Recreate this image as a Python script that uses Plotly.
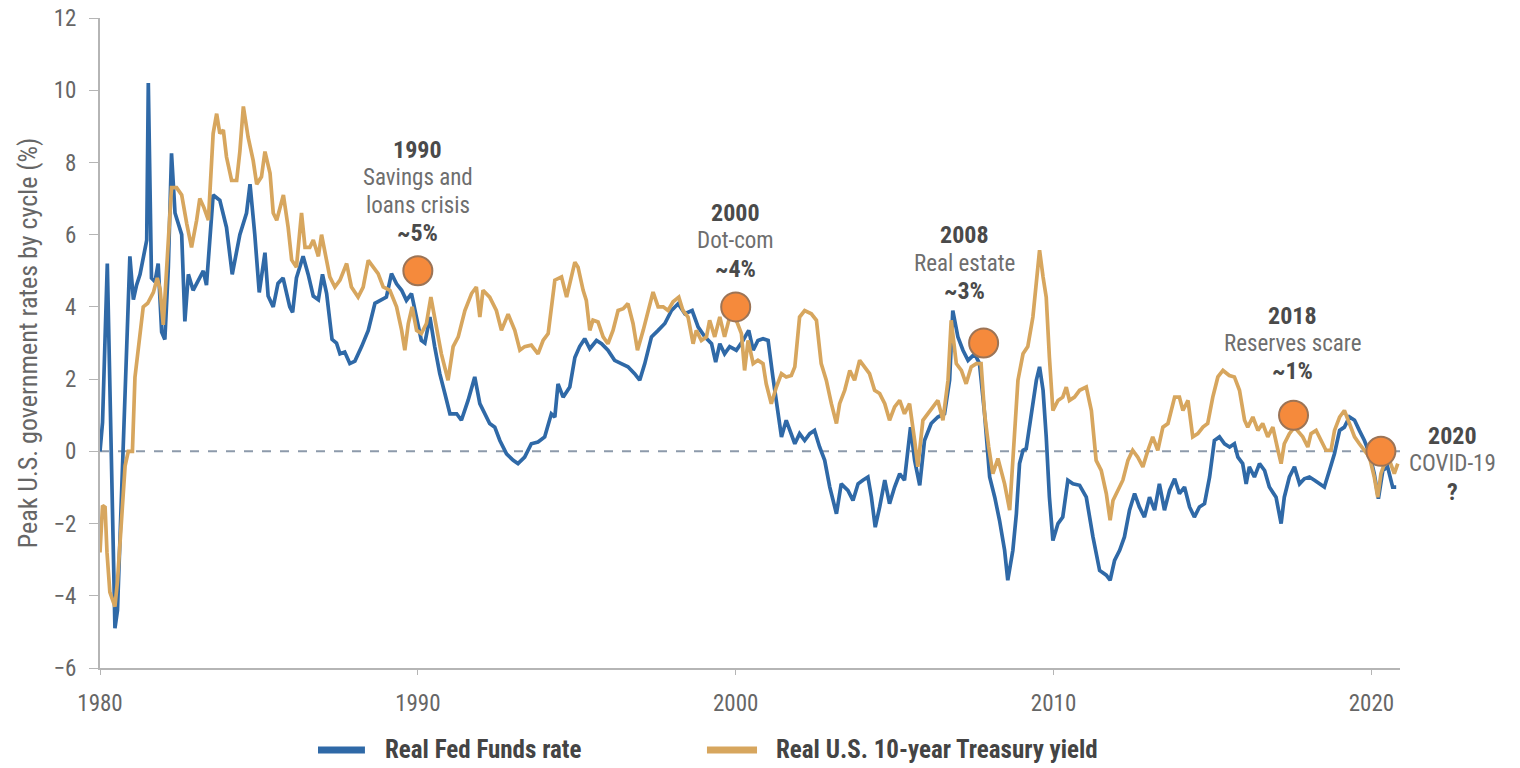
import plotly.graph_objects as go

# Real Fed Funds rate (%), by decimal year
ffr_years = [
    1980.00, 1980.08, 1980.23, 1980.47, 1980.55, 1980.73, 1980.82, 1980.94, 1981.05, 1981.15,
    1981.26, 1981.40, 1981.47, 1981.52, 1981.62, 1981.73, 1981.83, 1981.94, 1982.04, 1982.15,
    1982.25, 1982.36, 1982.57, 1982.67, 1982.78, 1982.93, 1983.09, 1983.25, 1983.35, 1983.56,
    1983.77, 1983.98, 1984.16, 1984.40, 1984.61, 1984.72, 1984.87, 1985.01, 1985.19, 1985.29,
    1985.45, 1985.60, 1985.76, 1985.97, 1986.06, 1986.18, 1986.39, 1986.55, 1986.71, 1986.87,
    1987.00, 1987.13, 1987.30, 1987.44, 1987.55, 1987.70, 1987.86, 1988.02, 1988.23, 1988.44,
    1988.65, 1988.80, 1989.01, 1989.17, 1989.33, 1989.49, 1989.64, 1989.80, 1989.96, 1990.11,
    1990.22, 1990.38, 1990.53, 1990.69, 1990.85, 1991.01, 1991.22, 1991.37, 1991.58, 1991.79,
    1991.95, 1992.11, 1992.26, 1992.42, 1992.58, 1992.79, 1993.00, 1993.15, 1993.36, 1993.57,
    1993.78, 1993.99, 1994.20, 1994.31, 1994.41, 1994.57, 1994.78, 1994.94, 1995.09, 1995.25,
    1995.41, 1995.62, 1995.78, 1995.98, 1996.19, 1996.40, 1996.61, 1996.82, 1996.98, 1997.14,
    1997.35, 1997.56, 1997.77, 1997.98, 1998.19, 1998.40, 1998.63, 1998.82, 1999.03, 1999.24,
    1999.37, 1999.50, 1999.65, 1999.81, 2000.02, 2000.23, 2000.41, 2000.55, 2000.70, 2000.86,
    2001.02, 2001.17, 2001.28, 2001.44, 2001.59, 2001.70, 2001.86, 2002.01, 2002.17, 2002.33,
    2002.48, 2002.64, 2002.80, 2002.96, 2003.17, 2003.32, 2003.53, 2003.69, 2003.85, 2004.00,
    2004.16, 2004.27, 2004.39, 2004.53, 2004.69, 2004.84, 2005.00, 2005.16, 2005.31, 2005.50,
    2005.63, 2005.79, 2005.94, 2006.15, 2006.36, 2006.57, 2006.73, 2006.83, 2006.99, 2007.15,
    2007.31, 2007.52, 2007.67, 2007.83, 2007.99, 2008.15, 2008.30, 2008.46, 2008.56, 2008.72,
    2008.83, 2008.93, 2009.04, 2009.14, 2009.30, 2009.46, 2009.56, 2009.67, 2009.77, 2009.87,
    2009.98, 2010.14, 2010.29, 2010.45, 2010.61, 2010.82, 2011.03, 2011.24, 2011.45, 2011.66,
    2011.78, 2011.92, 2012.08, 2012.23, 2012.39, 2012.55, 2012.70, 2012.86, 2013.02, 2013.18,
    2013.33, 2013.49, 2013.65, 2013.81, 2013.96, 2014.12, 2014.28, 2014.43, 2014.59, 2014.75,
    2014.91, 2015.06, 2015.22, 2015.38, 2015.54, 2015.69, 2015.80, 2015.95, 2016.06, 2016.16,
    2016.32, 2016.48, 2016.64, 2016.79, 2017.00, 2017.16, 2017.26, 2017.42, 2017.58, 2017.74,
    2017.89, 2018.05, 2018.21, 2018.37, 2018.52, 2018.68, 2018.84, 2019.00, 2019.15, 2019.31,
    2019.47, 2019.62, 2019.78, 2019.94, 2020.09, 2020.22, 2020.36, 2020.51, 2020.67, 2020.78,
]
ffr_values = [
    0.00, 0.80, 5.20, -4.90, -4.40, 0.00, 2.00, 5.40, 4.20, 4.60,
    4.90, 5.50, 5.85, 10.20, 4.80, 4.70, 5.20, 3.30, 3.10, 5.10,
    8.25, 6.60, 6.00, 3.60, 4.90, 4.46, 4.74, 5.00, 4.60, 7.10,
    6.95, 6.20, 4.90, 6.00, 6.60, 7.40, 6.00, 4.40, 5.50, 4.30,
    4.00, 4.65, 4.80, 4.00, 3.85, 4.80, 5.40, 4.90, 4.30, 4.20,
    4.90, 4.37, 3.10, 3.00, 2.70, 2.75, 2.43, 2.50, 2.90, 3.35,
    4.10, 4.18, 4.27, 4.92, 4.64, 4.46, 4.18, 4.37, 3.72, 3.07,
    3.00, 3.72, 2.90, 2.15, 1.60, 1.04, 1.04, 0.86, 1.41, 2.06,
    1.32, 1.04, 0.77, 0.67, 0.30, -0.07, -0.25, -0.34, -0.16, 0.21,
    0.26, 0.40, 1.04, 0.95, 1.87, 1.50, 1.78, 2.60, 2.90, 3.12,
    2.84, 3.07, 2.98, 2.80, 2.52, 2.43, 2.34, 2.15, 1.97, 2.43,
    3.17, 3.35, 3.54, 3.90, 4.09, 3.81, 3.90, 3.44, 3.17, 2.98,
    2.47, 2.98, 2.70, 2.90, 2.80, 3.07, 3.35, 2.80, 3.07, 3.12,
    3.07, 2.06, 1.41, 0.40, 0.86, 0.58, 0.21, 0.49, 0.30, 0.49,
    0.58, 0.12, -0.25, -0.99, -1.73, -0.90, -1.08, -1.36, -0.90, -0.80,
    -0.71, -1.27, -2.10, -1.54, -0.80, -1.45, -0.99, -0.62, -0.80, 0.67,
    -0.25, -0.94, 0.30, 0.77, 0.95, 1.04, 1.97, 3.90, 3.17, 2.80,
    2.52, 2.70, 2.43, 1.04, -0.71, -1.27, -1.91, -2.74, -3.57, -2.74,
    -1.73, -0.34, 0.03, 0.07, 0.95, 1.97, 2.34, 1.69, 0.40, -1.27,
    -2.47, -2.00, -1.82, -0.80, -0.90, -0.94, -1.27, -2.37, -3.30, -3.43,
    -3.57, -3.02, -2.74, -2.37, -1.63, -1.17, -1.54, -1.82, -1.27, -1.63,
    -0.90, -1.63, -1.08, -0.76, -1.17, -0.99, -1.54, -1.82, -1.54, -1.45,
    -0.71, 0.30, 0.40, 0.21, 0.12, 0.21, -0.16, -0.34, -0.90, -0.43,
    -0.71, -0.34, -0.53, -0.99, -1.27, -2.00, -1.27, -0.71, -0.43, -0.90,
    -0.76, -0.71, -0.80, -0.90, -0.99, -0.53, -0.06, 0.58, 0.67, 0.95,
    0.86, 0.58, 0.30, -0.06, -0.62, -1.31, -0.53, -0.43, -0.99, -0.99,
]

# Real U.S. 10-year Treasury yield (%), by decimal year
ust_years = [
    1980.00, 1980.08, 1980.16, 1980.22, 1980.31, 1980.47, 1980.55, 1980.68, 1980.79, 1980.89,
    1981.02, 1981.10, 1981.26, 1981.36, 1981.50, 1981.68, 1981.80, 1981.89, 1981.99, 1982.10,
    1982.25, 1982.41, 1982.57, 1982.73, 1982.88, 1983.04, 1983.14, 1983.27, 1983.41, 1983.56,
    1983.67, 1983.77, 1983.88, 1983.98, 1984.14, 1984.30, 1984.40, 1984.51, 1984.66, 1984.82,
    1984.93, 1985.08, 1985.19, 1985.35, 1985.45, 1985.56, 1985.77, 1985.92, 1986.03, 1986.18,
    1986.34, 1986.45, 1986.60, 1986.71, 1986.87, 1986.97, 1987.13, 1987.23, 1987.39, 1987.55,
    1987.76, 1987.91, 1988.12, 1988.28, 1988.44, 1988.60, 1988.75, 1988.91, 1989.12, 1989.33,
    1989.49, 1989.59, 1989.70, 1989.82, 1989.96, 1990.11, 1990.27, 1990.41, 1990.59, 1990.74,
    1990.95, 1991.11, 1991.27, 1991.48, 1991.69, 1991.84, 1991.95, 1992.05, 1992.26, 1992.47,
    1992.63, 1992.84, 1993.05, 1993.21, 1993.36, 1993.57, 1993.78, 1993.94, 1994.10, 1994.31,
    1994.52, 1994.68, 1994.83, 1994.94, 1995.04, 1995.20, 1995.30, 1995.41, 1995.51, 1995.67,
    1995.83, 1995.98, 1996.14, 1996.30, 1996.46, 1996.61, 1996.77, 1996.91, 1997.09, 1997.24,
    1997.40, 1997.56, 1997.72, 1997.87, 1998.03, 1998.21, 1998.34, 1998.50, 1998.66, 1998.76,
    1998.92, 1999.08, 1999.18, 1999.34, 1999.50, 1999.65, 1999.81, 2000.02, 2000.18, 2000.28,
    2000.39, 2000.55, 2000.70, 2000.86, 2000.96, 2001.12, 2001.28, 2001.44, 2001.59, 2001.75,
    2001.86, 2002.01, 2002.17, 2002.38, 2002.54, 2002.69, 2002.85, 2003.01, 2003.17, 2003.27,
    2003.43, 2003.59, 2003.74, 2003.90, 2004.06, 2004.21, 2004.37, 2004.53, 2004.69, 2004.84,
    2005.00, 2005.16, 2005.31, 2005.47, 2005.63, 2005.73, 2005.89, 2006.05, 2006.21, 2006.36,
    2006.52, 2006.68, 2006.78, 2006.94, 2007.10, 2007.25, 2007.41, 2007.57, 2007.72, 2007.83,
    2007.96, 2008.09, 2008.25, 2008.46, 2008.62, 2008.77, 2008.88, 2009.04, 2009.19, 2009.35,
    2009.48, 2009.56, 2009.67, 2009.77, 2009.87, 2009.98, 2010.14, 2010.29, 2010.40, 2010.50,
    2010.66, 2010.82, 2011.03, 2011.19, 2011.34, 2011.50, 2011.66, 2011.78, 2011.87, 2012.02,
    2012.18, 2012.34, 2012.49, 2012.65, 2012.81, 2012.97, 2013.12, 2013.28, 2013.44, 2013.60,
    2013.81, 2013.96, 2014.07, 2014.23, 2014.38, 2014.54, 2014.70, 2014.85, 2015.01, 2015.17,
    2015.33, 2015.53, 2015.69, 2015.85, 2016.01, 2016.11, 2016.27, 2016.43, 2016.58, 2016.74,
    2016.90, 2017.06, 2017.16, 2017.26, 2017.42, 2017.58, 2017.74, 2017.84, 2018.00, 2018.10,
    2018.26, 2018.42, 2018.57, 2018.73, 2018.84, 2019.00, 2019.15, 2019.31, 2019.47, 2019.62,
    2019.78, 2019.94, 2020.09, 2020.20, 2020.30, 2020.41, 2020.57, 2020.72, 2020.83,
]
ust_values = [
    -2.80, -1.50, -1.55, -2.80, -3.90, -4.30, -3.60, -1.70, -0.40, 0.00,
    0.00, 2.05, 3.35, 4.00, 4.10, 4.40, 4.80, 4.50, 3.50, 5.30,
    7.30, 7.30, 7.10, 6.30, 5.65, 6.40, 7.00, 6.75, 6.40, 8.80,
    9.35, 8.80, 8.90, 8.15, 7.50, 7.50, 8.30, 9.55, 8.70, 8.05,
    7.40, 7.60, 8.30, 7.70, 6.60, 6.40, 7.10, 6.20, 5.30, 5.10,
    6.60, 5.65, 5.65, 5.85, 5.40, 6.00, 5.30, 4.83, 4.55, 4.74,
    5.20, 4.55, 4.27, 4.55, 5.29, 5.10, 4.92, 4.55, 4.46, 4.00,
    3.35, 2.80, 3.54, 4.00, 3.35, 3.26, 3.54, 4.27, 3.35, 2.70,
    1.97, 2.90, 3.17, 3.90, 4.37, 4.55, 3.72, 4.46, 4.27, 3.90,
    3.35, 3.80, 3.35, 2.80, 2.90, 2.94, 2.70, 3.07, 3.26, 4.74,
    4.83, 4.27, 4.83, 5.24, 5.10, 4.46, 4.18, 3.35, 3.63, 3.58,
    3.17, 2.98, 3.35, 3.90, 3.95, 4.09, 3.54, 2.80, 3.35, 3.90,
    4.41, 4.00, 4.00, 3.90, 4.14, 4.27, 3.90, 3.72, 2.98, 3.35,
    3.07, 3.17, 3.63, 3.17, 3.72, 3.17, 3.72, 3.63, 3.26, 2.24,
    3.07, 2.43, 2.52, 2.43, 1.87, 1.32, 1.78, 2.15, 2.06, 2.10,
    2.34, 3.72, 3.90, 3.81, 3.63, 2.43, 1.97, 1.32, 0.77, 1.32,
    1.69, 2.24, 1.97, 2.52, 2.34, 2.15, 1.69, 1.60, 1.32, 0.86,
    1.23, 1.41, 1.04, 1.32, 0.30, -0.43, 0.86, 1.04, 1.23, 1.41,
    0.86, 1.97, 3.63, 2.43, 2.24, 1.87, 2.34, 2.43, 2.43, 1.04,
    0.12, -0.62, -0.20, -0.90, -1.63, 0.40, 1.97, 2.70, 2.90, 3.72,
    5.00, 5.57, 4.83, 4.27, 2.60, 1.13, 1.41, 1.50, 1.78, 1.41,
    1.50, 1.69, 1.78, 1.13, -0.25, -0.53, -1.17, -1.91, -1.36, -1.08,
    -0.80, -0.25, 0.03, -0.16, -0.43, 0.03, 0.40, 0.03, 0.67, 0.77,
    1.50, 1.50, 1.13, 1.41, 0.40, 0.49, 0.67, 0.77, 1.50, 2.06,
    2.24, 2.10, 2.06, 1.69, 0.86, 0.67, 0.95, 0.58, 0.77, 0.40,
    0.67, 0.03, -0.34, 0.21, 0.49, 0.67, 0.49, 0.40, 0.12, 0.49,
    0.58, 0.30, 0.03, 0.03, 0.58, 0.95, 1.13, 0.77, 0.40, 0.21,
    0.03, -0.16, -0.71, -1.27, -0.62, -0.34, -0.25, -0.62, -0.34,
]

# Peak real rate reached in each tightening cycle
event_years = [1990.0, 2000.0, 2007.8, 2017.55, 2020.3]
event_peaks = [5.0, 4.0, 3.0, 1.0, 0.0]
event_titles = ["1990", "2000", "2008", "2018", "2020"]
event_names = [["Savings and", "loans crisis"], ["Dot-com"], ["Real estate"],
               ["Reserves scare"], ["COVID-19"]]
event_levels = ["~5%", "~4%", "~3%", "~1%", "?"]

series_names = ["Real Fed Funds rate", "Real U.S. 10-year Treasury yield"]
y_ticks = [-6, -4, -2, 0, 2, 4, 6, 8, 10, 12]
x_ticks = [1980, 1990, 2000, 2010, 2020]

BLUE = "#2f69a7"
GOLD = "#d7a65e"
ORANGE = "#f58a3c"
FONT = "Liberation Sans Narrow, Arial Narrow, Roboto Condensed, DejaVu Sans Condensed, sans-serif"

fig = go.Figure()

fig.add_trace(go.Scatter(
    x=ffr_years, y=ffr_values, mode="lines", name=series_names[0],
    line=dict(color=BLUE, width=3.7), hoverinfo="x+y",
))
fig.add_trace(go.Scatter(
    x=ust_years, y=ust_values, mode="lines", name=series_names[1],
    line=dict(color=GOLD, width=3.7), hoverinfo="x+y",
))
fig.add_trace(go.Scatter(
    x=event_years, y=event_peaks, mode="markers", name="Cycle peak", hoverinfo="x+y",
    marker=dict(size=29, color=ORANGE, line=dict(color="#9c7456", width=2)),
))

# dashed zero reference
fig.add_shape(type="line", xref="paper", x0=0, x1=1, yref="y", y0=0, y1=0,
              line=dict(color="#8d9aab", width=2, dash="dash"), layer="below")

# label blocks: (x position, xref, y of first line) for each event
label_pos = [(1990.0, "x", 8.35), (2000.0, "x", 6.6), (2007.2, "x", 5.98),
             (2017.52, "x", 3.76), (1.04, "paper", 0.42)]
LINE_STEP = 0.77
for (lx, xref, ly), title, names, level in zip(label_pos, event_titles, event_names, event_levels):
    lines = [(title, True)] + [(n, False) for n in names] + [(level, True)]
    for i, (txt, bold) in enumerate(lines):
        fig.add_annotation(
            x=lx, xref=xref, y=ly - i * LINE_STEP, yref="y", text=txt, showarrow=False,
            xanchor="center", yanchor="middle",
            font=dict(family=FONT, size=24 if bold else 23,
                      color="#4a4a4a" if bold else "#6e6e6e",
                      weight="bold" if bold else "normal"),
        )

# legend row beneath the axis: key swatch span and text start, in paper units
LEGEND_Y = -0.126
legend_keys = [(0.1677, 0.2038, 0.2185), (0.4669, 0.5054, 0.5192)]
for (k0, k1, tx), name, color in zip(legend_keys, series_names, [BLUE, GOLD]):
    fig.add_shape(type="line", xref="paper", yref="paper", x0=k0, x1=k1,
                  y0=LEGEND_Y, y1=LEGEND_Y, line=dict(color=color, width=7))
    fig.add_annotation(x=tx, xref="paper", y=LEGEND_Y, yref="paper", text=name,
                       showarrow=False, xanchor="left", yanchor="middle", borderpad=0,
                       font=dict(family=FONT, size=25, color="#444444", weight="bold"))

fig.update_layout(
    width=1520, height=768,
    margin=dict(l=100, r=120, t=18, b=100),
    paper_bgcolor="white", plot_bgcolor="white",
    font=dict(family=FONT, color="#666666"),
    showlegend=False,
    xaxis=dict(range=[1980, 2020.9], tickvals=x_ticks, ticktext=[str(t) for t in x_ticks],
               showgrid=False, zeroline=False, showline=True, linecolor="#b5b5b5", linewidth=2,
               ticks="outside", ticklen=5, tickcolor="#b5b5b5", tickwidth=1, automargin=False,
               tickfont=dict(family=FONT, size=23, color="#666666"), ticklabelstandoff=8),
    yaxis=dict(range=[-6, 12], tickvals=y_ticks, showgrid=False, zeroline=False,
               showline=True, linecolor="#b5b5b5", linewidth=2, automargin=False,
               ticks="outside", ticklen=9, tickcolor="#b5b5b5", tickwidth=1,
               tickfont=dict(family=FONT, size=23, color="#666666"), ticklabelstandoff=8,
               title=dict(text="Peak U.S. government rates by cycle (%)",
                          font=dict(family=FONT, size=26, color="#666666"), standoff=8)),
)

fig.write_html("out.html")
